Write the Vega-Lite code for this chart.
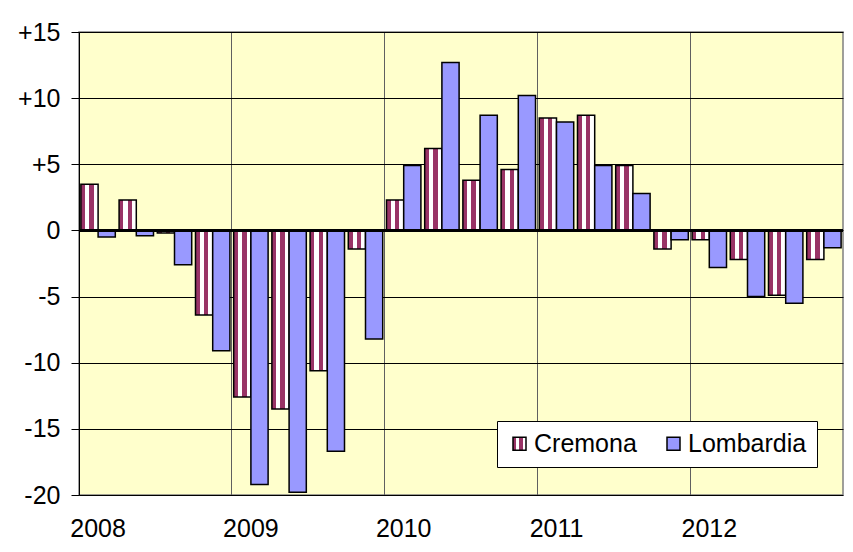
{
  "$schema": "https://vega.github.io/schema/vega-lite/v6.json",
  "width": 764,
  "height": 463,
  "autosize": {"type": "none"},
  "padding": {"left": 79, "top": 32, "right": 10, "bottom": 57},
  "background": "#ffffff",
  "params": [
    {"name": "cremGrad", "value": {"gradient": "linear", "x1": 0, "y1": 0, "x2": 1, "y2": 0,
      "stops": [
        {"offset": 0, "color": "#993366"}, {"offset": 0.25, "color": "#993366"},
        {"offset": 0.25, "color": "#ffffff"}, {"offset": 0.5, "color": "#ffffff"},
        {"offset": 0.5, "color": "#993366"}, {"offset": 0.75, "color": "#993366"},
        {"offset": 0.75, "color": "#ffffff"}, {"offset": 1, "color": "#ffffff"}
      ]}}
  ],
  "config": {
    "font": "Liberation Sans",
    "view": {"fill": "#FFFFCC", "stroke": "#808080", "strokeWidth": 1.5},
    "axis": {"labelFont": "Liberation Sans", "labelColor": "#000000"}
  },
  "data": {
    "values": [
      {"q": "2008-Q1", "serie": "Cremona", "v": 3.5}, {"q": "2008-Q1", "serie": "Lombardia", "v": -0.5},
      {"q": "2008-Q2", "serie": "Cremona", "v": 2.3}, {"q": "2008-Q2", "serie": "Lombardia", "v": -0.4},
      {"q": "2008-Q3", "serie": "Cremona", "v": -0.2}, {"q": "2008-Q3", "serie": "Lombardia", "v": -2.6},
      {"q": "2008-Q4", "serie": "Cremona", "v": -6.4}, {"q": "2008-Q4", "serie": "Lombardia", "v": -9.1},
      {"q": "2009-Q1", "serie": "Cremona", "v": -12.6}, {"q": "2009-Q1", "serie": "Lombardia", "v": -19.2},
      {"q": "2009-Q2", "serie": "Cremona", "v": -13.5}, {"q": "2009-Q2", "serie": "Lombardia", "v": -19.8},
      {"q": "2009-Q3", "serie": "Cremona", "v": -10.6}, {"q": "2009-Q3", "serie": "Lombardia", "v": -16.7},
      {"q": "2009-Q4", "serie": "Cremona", "v": -1.4}, {"q": "2009-Q4", "serie": "Lombardia", "v": -8.2},
      {"q": "2010-Q1", "serie": "Cremona", "v": 2.3}, {"q": "2010-Q1", "serie": "Lombardia", "v": 4.9},
      {"q": "2010-Q2", "serie": "Cremona", "v": 6.2}, {"q": "2010-Q2", "serie": "Lombardia", "v": 12.7},
      {"q": "2010-Q3", "serie": "Cremona", "v": 3.8}, {"q": "2010-Q3", "serie": "Lombardia", "v": 8.7},
      {"q": "2010-Q4", "serie": "Cremona", "v": 4.6}, {"q": "2010-Q4", "serie": "Lombardia", "v": 10.2},
      {"q": "2011-Q1", "serie": "Cremona", "v": 8.5}, {"q": "2011-Q1", "serie": "Lombardia", "v": 8.2},
      {"q": "2011-Q2", "serie": "Cremona", "v": 8.7}, {"q": "2011-Q2", "serie": "Lombardia", "v": 4.9},
      {"q": "2011-Q3", "serie": "Cremona", "v": 4.9}, {"q": "2011-Q3", "serie": "Lombardia", "v": 2.8},
      {"q": "2011-Q4", "serie": "Cremona", "v": -1.4}, {"q": "2011-Q4", "serie": "Lombardia", "v": -0.7},
      {"q": "2012-Q1", "serie": "Cremona", "v": -0.7}, {"q": "2012-Q1", "serie": "Lombardia", "v": -2.8},
      {"q": "2012-Q2", "serie": "Cremona", "v": -2.2}, {"q": "2012-Q2", "serie": "Lombardia", "v": -5.0},
      {"q": "2012-Q3", "serie": "Cremona", "v": -4.9}, {"q": "2012-Q3", "serie": "Lombardia", "v": -5.5},
      {"q": "2012-Q4", "serie": "Cremona", "v": -2.2}, {"q": "2012-Q4", "serie": "Lombardia", "v": -1.3}
    ]
  },
  "layer": [
    {
      "mark": {"type": "bar", "stroke": "#000000", "strokeWidth": 1.5},
      "encoding": {
        "x": {
          "field": "q", "type": "ordinal", "sort": null,
          "scale": {"paddingInner": 0, "paddingOuter": 0},
          "axis": {
            "title": null, "labelAngle": 0, "ticks": false, "domain": false,
            "bandPosition": 0, "labelOffset": 0, "labelPadding": 21,
            "labelFontSize": 25, "labelBaseline": "top",
            "labelExpr": "indexof(datum.value, 'Q1') >= 0 ? slice(datum.value, 0, 4) : ''",
            "grid": true, "gridColor": "#606060", "gridWidth": 1,
            "gridOpacity": {"condition": {"test": "indexof(datum.value, 'Q1') >= 0", "value": 1}, "value": 0}
          }
        },
        "xOffset": {
          "field": "serie", "type": "nominal",
          "scale": {"paddingInner": 0, "paddingOuter": 0.11}
        },
        "y": {
          "field": "v", "type": "quantitative",
          "scale": {"domain": [-20, 15], "nice": false, "zero": false},
          "axis": {
            "title": null, "values": [-20, -15, -10, -5, 0, 5, 10, 15],
            "labelExpr": "datum.value > 0 ? '+' + datum.value : '' + datum.value",
            "labelFontSize": 25, "labelPadding": 11, "tickSize": 8, "tickColor": "#000000",
            "domain": true, "domainColor": "#000000",
            "grid": true, "gridColor": "#000000", "gridWidth": 1
          }
        },
        "fill": {
          "field": "serie", "type": "nominal",
          "scale": {"domain": ["Cremona", "Lombardia"], "range": [{"expr": "cremGrad"}, "#9999FF"]},
          "legend": {
            "title": null, "orient": "none", "legendX": 418, "legendY": 389,
            "direction": "horizontal", "symbolType": "square", "symbolSize": 169,
            "symbolStrokeColor": "#000000", "symbolStrokeWidth": 1.5, "symbolOpacity": 1,
            "labelFontSize": 25, "labelFont": "Liberation Sans", "labelColor": "#000000",
            "labelOffset": 2, "columnPadding": 24,
            "fillColor": "#ffffff", "strokeColor": "#000000", "padding": 10
          }
        }
      }
    },
    {
      "mark": {"type": "rule", "stroke": "#000000", "strokeWidth": 3},
      "encoding": {"y": {"datum": 0}}
    }
  ]
}
